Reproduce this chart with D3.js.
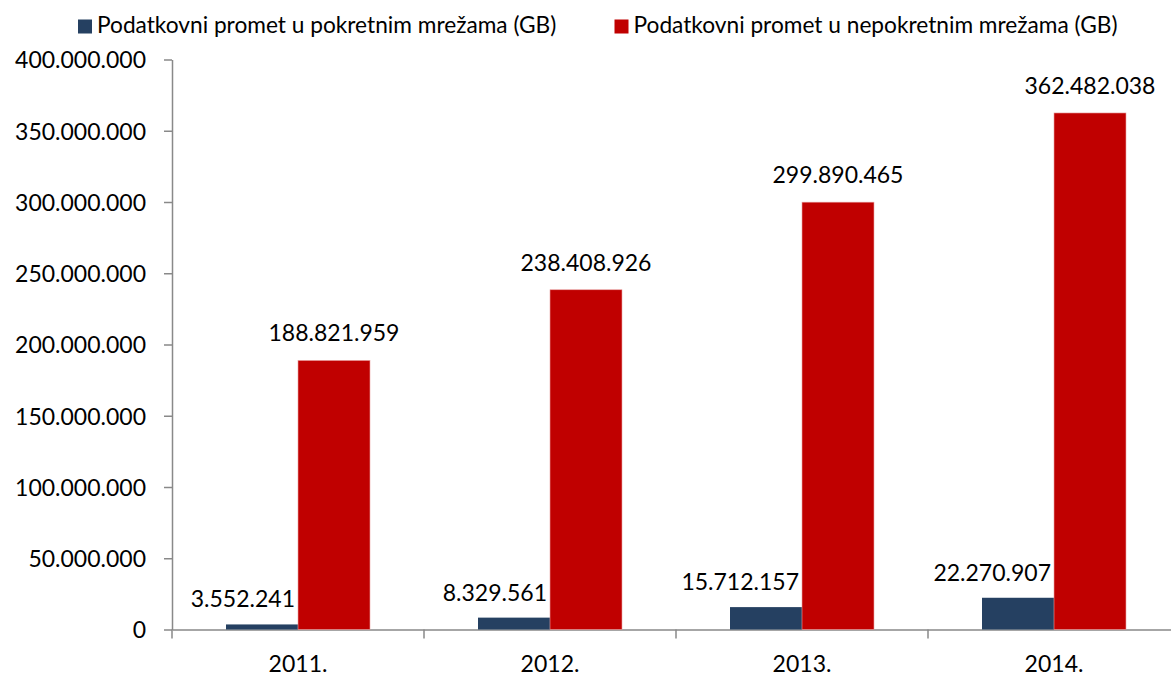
<!DOCTYPE html>
<html>
<head>
<meta charset="utf-8">
<script src="https://cdn.jsdelivr.net/npm/d3@7"></script>
<style>
  body { margin: 0; background: #fff; }
  text { font-family: Lato, "Open Sans", sans-serif; fill: #000; }
</style>
</head>
<body>
<svg id="chart" width="1171" height="675"></svg>
<script>
var years = ["2011.", "2012.", "2013.", "2014."];
var series = ["Podatkovni promet u pokretnim mrežama (GB)", "Podatkovni promet u nepokretnim mrežama (GB)"];
var mobile = [3552241, 8329561, 15712157, 22270907];
var fixed = [188821959, 238408926, 299890465, 362482038];
var yTicks = [0, 50000000, 100000000, 150000000, 200000000, 250000000, 300000000, 350000000, 400000000];
var colors = ["#254061", "#c00000"];

var svg = d3.select("#chart"),
    fontSize = 23;

var locale = d3.formatLocale({ decimal: ",", thousands: ".", grouping: [3], currency: ["", ""] }),
    fmt = locale.format(",d");

var x = d3.scaleBand().domain(years).range([172, 1180]).padding(0);
var xs = d3.scaleBand().domain([0, 1]).range([0, x.bandwidth()]).paddingInner(0).paddingOuter(0.75);
var y = d3.scaleLinear().domain([0, 400000000]).range([629.5, 59.5]);

var axisColor = "#898989";

// y axis
var yAxis = svg.append("g")
    .attr("transform", "translate(172,0)")
    .call(d3.axisLeft(y).tickValues(yTicks).tickSize(8).tickSizeOuter(0).tickPadding(0).tickFormat(fmt));
yAxis.select(".domain").attr("stroke", axisColor).attr("stroke-width", 1.5);
yAxis.selectAll(".tick line").attr("stroke", axisColor).attr("stroke-width", 1.5);
yAxis.selectAll(".tick text")
    .attr("x", -26)
    .attr("dy", "0.36em")
    .style("font-size", fontSize + "px")
    .style("font-family", "Lato, 'Open Sans', sans-serif")
    .attr("fill", "#000");

// x axis
var xAxis = svg.append("g")
    .attr("transform", "translate(0," + y(0) + ")")
    .call(d3.axisBottom(x).tickSize(0).tickPadding(0).tickSizeOuter(0));
xAxis.select(".domain").attr("stroke", axisColor).attr("stroke-width", 1.5);
xAxis.selectAll(".tick text")
    .attr("y", 42)
    .attr("dy", 0)
    .style("font-size", fontSize + "px")
    .style("font-family", "Lato, 'Open Sans', sans-serif")
    .attr("fill", "#000");
// boundary ticks between categories
xAxis.selectAll(".sep")
    .data(years)
    .enter().append("line")
    .attr("x1", function(d) { return x(d); })
    .attr("x2", function(d) { return x(d); })
    .attr("y1", 0).attr("y2", 9)
    .attr("stroke", axisColor).attr("stroke-width", 1.5);

// bars
var rows = years.map(function(d, i) { return { year: d, values: [mobile[i], fixed[i]] }; });

var groups = svg.append("g").selectAll("g")
    .data(rows)
    .enter().append("g")
    .attr("transform", function(d) { return "translate(" + x(d.year) + ",0)"; });

groups.selectAll("rect")
    .data(function(d) { return d.values.map(function(v, s) { return { s: s, v: v }; }); })
    .enter().append("rect")
    .attr("x", function(d) { return xs(d.s); })
    .attr("width", xs.bandwidth())
    .attr("y", function(d) { return y(d.v); })
    .attr("height", function(d) { return y(0) - y(d.v); })
    .attr("fill", function(d) { return colors[d.s]; })
    .attr("stroke", function(d) { return d.s ? "#e9a3a3" : "none"; })
    .attr("stroke-width", 0.6);

// value labels
groups.selectAll("text.val")
    .data(function(d) { return d.values.map(function(v, s) { return { s: s, v: v }; }); })
    .enter().append("text")
    .attr("class", "val")
    .attr("x", function(d) { return d.s ? xs(d.s) + xs.bandwidth() / 2 : xs(d.s) + xs.bandwidth() - 3; })
    .attr("y", function(d) { return y(d.v) - (d.s ? 19 : 17); })
    .attr("text-anchor", function(d) { return d.s ? "middle" : "end"; })
    .style("font-size", fontSize + "px")
    .text(function(d) { return fmt(d.v); });

// legend
var legendX = [78, 614.5];
var legend = svg.append("g").selectAll("g")
    .data(series)
    .enter().append("g")
    .attr("transform", function(d, i) { return "translate(" + legendX[i] + ",0)"; });
legend.append("rect")
    .attr("x", 0).attr("y", 19.5)
    .attr("width", 14).attr("height", 14)
    .attr("fill", function(d, i) { return colors[i]; });
legend.append("text")
    .attr("x", 19).attr("y", 32.5)
    .style("font-size", "22.7px")
    .text(function(d) { return d; });
</script>
</body>
</html>
